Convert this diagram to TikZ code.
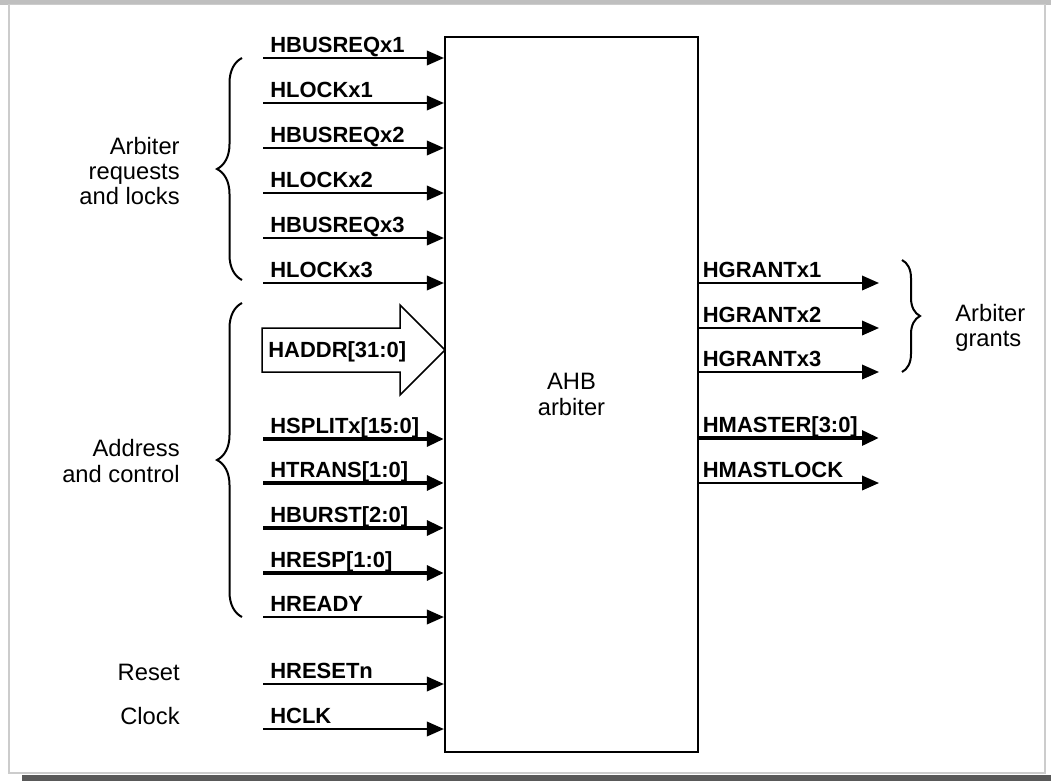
\documentclass[tikz,border=0pt]{standalone}
\usepackage{fontspec}
\setmainfont{Liberation Sans}
\usetikzlibrary{arrows.meta,decorations.pathreplacing}
\tikzset{
  sig/.style={line width=0.04cm,-{Triangle[length=0.34cm,width=0.29cm]}},
  siglabel/.style={anchor=base west,inner sep=0pt,font=\bfseries\fontsize{12.5}{15}\selectfont},
  grouplabel/.style={align=right,anchor=east,inner sep=0pt,font=\fontsize{13.5}{14.5}\selectfont},
  groupbrace/.style={decorate,decoration={brace,amplitude=#1},line width=0.04cm},
  groupbrace/.default=0.5cm,
}

\begin{document}
\begin{tikzpicture}[x=0.02cm,y=-0.02cm]
\useasboundingbox (0,0) rectangle (1051,781);
\fill[gray!50] (0,0) rectangle (1051,4.5);
\draw[gray!40,line width=0.03cm,fill=white] (9,4.5) rectangle (1045,773);
\fill[black!65] (22,775) rectangle (1051,781);

\node[draw,line width=0.045cm,minimum width=5.06cm,minimum height=14.3cm,align=center,font=\fontsize{13.5}{14.8}\selectfont] (arb) at (571.5,394.5) {AHB\\arbiter};

\foreach \y/\txt/\w [count=\i] in {58/HBUSREQx1/0.04, 103/HLOCKx1/0.04, 148/HBUSREQx2/0.04, 193/HLOCKx2/0.04, 238/HBUSREQx3/0.04, 283/HLOCKx3/0.04, 439/HSPLITx[15:0]/0.095, 483/HTRANS[1:0]/0.095, 528/HBURST[2:0]/0.095, 573/HRESP[1:0]/0.095, 617/HREADY/0.04, 684/HRESETn/0.04, 729/HCLK/0.04}{
  \coordinate (in\i) at (263,\y);
  \node[siglabel] (inlab\i) at (270,\y-6) {\txt};
  \draw[sig,line width=\w cm] (in\i) -- (in\i -| arb.west);
}
\foreach \y/\txt/\w [count=\i] in {283/HGRANTx1/0.04, 328/HGRANTx2/0.04, 372/HGRANTx3/0.04, 438/HMASTER[3:0]/0.095, 483/HMASTLOCK/0.04}{
  \coordinate (out\i) at (879,\y);
  \node[siglabel] (outlab\i) at (702.5,\y-6) {\txt};
  \draw[sig,line width=\w cm] (out\i -| arb.east) -- (out\i);
}

\draw[line width=0.03cm] (262,328) -- (400,328) -- (400,305) -- (445,350) -- (400,395) -- (400,372) -- (262,372) -- cycle;
\node[siglabel] (haddr) at (268,357) {HADDR[31:0]};

\draw[groupbrace] (242,280) -- (242,58);
\node[grouplabel] (reqlab) at (180,171) {Arbiter\\requests\\and locks};
\draw[groupbrace] (242,617) -- (242,303);
\node[grouplabel] (adrlab) at (180,461) {Address\\and control};
\draw[groupbrace=0.36cm] (902,260) -- (902,372);
\node[grouplabel,align=left,anchor=west] (grantlab) at (955,328) {Arbiter\\grants};
\node[grouplabel] (rstlab) at (180,672) {Reset};
\node[grouplabel] (clklab) at (180,716) {Clock};
\end{tikzpicture}
\end{document}
